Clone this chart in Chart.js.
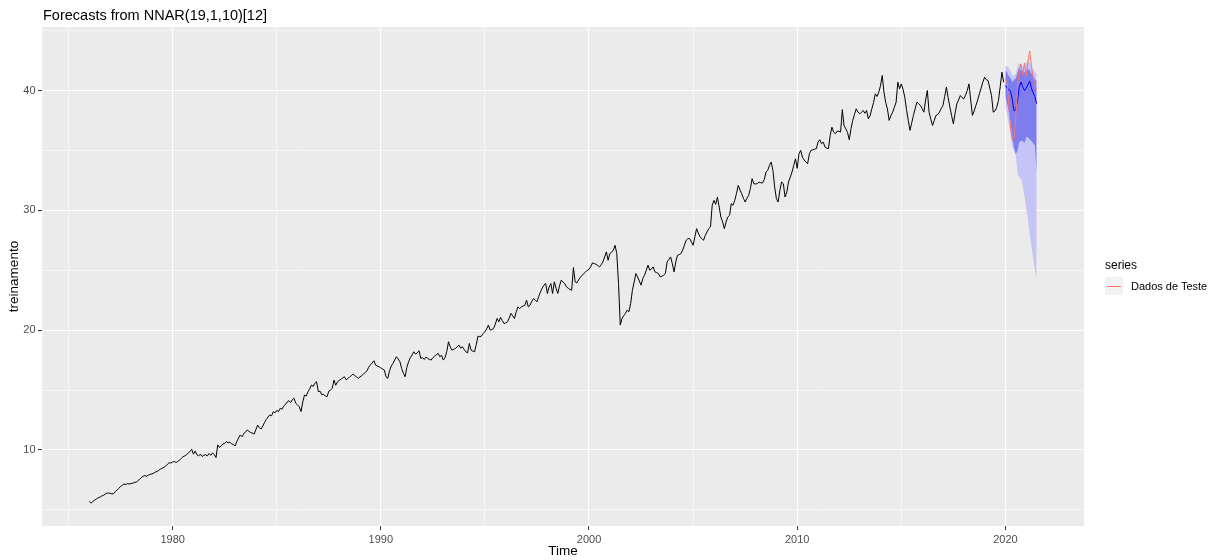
<!DOCTYPE html>
<html>
<head>
<meta charset="utf-8">
<title>Forecasts from NNAR(19,1,10)[12]</title>
<script src="https://cdn.jsdelivr.net/npm/chart.js@4.4.1/dist/chart.umd.min.js"></script>
<style>
  html, body { margin: 0; padding: 0; background: #fff; }
  #wrap { position: relative; width: 1222px; height: 560px; font-family: "Liberation Sans", Arial, sans-serif; color: #000; }
  #plot { position: absolute; left: 0; top: 0; }
  .txt { position: absolute; white-space: nowrap; line-height: 1; }
  #title { left: 43px; top: 8px; font-size: 14.5px; }
  #legTitle { left: 1105px; top: 259px; font-size: 12px; }
  #legKey { position: absolute; left: 1105px; top: 277px; width: 18px; height: 18px; background: #F2F2F2; }
  #legKey span { position: absolute; left: 2px; right: 2px; top: 8.5px; height: 1px; background: #F8766D; }
  #legLabel { left: 1131px; top: 281px; font-size: 11px; }
</style>
</head>
<body>
<div id="wrap">
  <canvas id="plot" width="1222" height="560"></canvas>
  <div class="txt" id="title">Forecasts from NNAR(19,1,10)[12]</div>
  <div class="txt" id="legTitle">series</div>
  <div id="legKey"><span></span></div>
  <div class="txt" id="legLabel">Dados de Teste</div>
</div>
<script>
// monthly series, one row per year
const trainStart = 1976;
const treinamento = [
  5.69, 5.56, 5.7, 5.8, 5.9, 6.0, 6.05, 6.15, 6.2, 6.3, 6.39, 6.4,            // 1976
  6.38, 6.33, 6.35, 6.53, 6.65, 6.8, 6.95, 7.05, 7.17, 7.1, 7.2, 7.15,        // 1977
  7.2, 7.22, 7.3, 7.28, 7.45, 7.55, 7.7, 7.8, 7.86, 7.8, 7.9, 7.95,           // 1978
  8.0, 8.05, 8.15, 8.2, 8.3, 8.4, 8.47, 8.55, 8.65, 8.8, 8.94, 8.9,           // 1979
  9.0, 9.03, 8.95, 9.05, 9.15, 9.3, 9.44, 9.5, 9.6, 9.75, 9.86, 10.05,        // 1980
  9.65, 9.9, 9.6, 9.5, 9.65, 9.45, 9.55, 9.6, 9.5, 9.7, 9.55, 9.75,           // 1981
  9.6, 9.36, 10.42, 10.2, 10.35, 10.5, 10.55, 10.69, 10.6, 10.65, 10.5, 10.45, // 1982
  10.33, 10.7, 11.0, 11.25, 11.1, 11.35, 11.5, 11.67, 11.55, 11.45, 11.4, 11.33, // 1983
  11.7, 12.08, 11.85, 11.75, 12.0, 12.3, 12.55, 12.75, 12.92, 12.85, 13.19, 13.1, // 1984
  13.3, 13.2, 13.47, 13.4, 13.65, 13.8, 14.0, 14.11, 13.95, 14.2, 14.31, 13.89, // 1985
  13.75, 13.6, 13.2, 14.0, 14.58, 14.5, 14.85, 15.1, 15.42, 15.3, 15.56, 15.69, // 1986
  14.86, 14.9, 14.6, 14.65, 14.5, 14.44, 14.9, 15.0, 15.14, 15.83, 15.4, 15.69, // 1987
  15.8, 15.9, 16.0, 16.11, 15.85, 15.95, 16.1, 16.2, 16.33, 16.2, 16.1, 15.97, // 1988
  16.1, 16.2, 16.33, 16.45, 16.6, 16.9, 17.1, 17.25, 17.44, 17.08, 17.0, 16.94, // 1989
  16.85, 16.75, 16.67, 16.1, 15.97, 16.6, 17.0, 17.22, 17.5, 17.78, 17.6, 17.36, // 1990
  16.8, 16.4, 16.11, 16.9, 17.36, 17.7, 17.92, 18.19, 18.0, 18.1, 18.28, 17.64, // 1991
  17.7, 17.55, 17.75, 17.64, 17.55, 17.5, 17.7, 17.83, 17.95, 18.06, 17.78, 17.9, // 1992
  17.5, 17.7, 18.2, 19.03, 18.6, 18.33, 18.4, 18.47, 18.6, 18.75, 18.5, 18.61, // 1993
  18.4, 18.19, 18.1, 18.89, 18.33, 18.25, 18.19, 18.8, 19.5, 19.45, 19.5, 19.72, // 1994
  19.86, 20.1, 20.42, 20.0, 20.05, 20.14, 20.5, 20.97, 20.69, 21.06, 20.8, 20.55, // 1995
  20.6, 20.69, 21.0, 21.39, 21.2, 20.97, 21.5, 21.94, 21.8, 21.94, 22.0, 22.08, // 1996
  22.5, 21.94, 22.08, 22.4, 22.64, 22.5, 22.36, 22.8, 23.19, 23.5, 23.75, 23.89, // 1997
  23.06, 23.6, 23.89, 23.06, 24.03, 23.5, 23.06, 23.7, 24.17, 24.0, 23.89, 23.61, // 1998
  23.5, 23.4, 23.33, 25.22, 24.03, 23.94, 24.2, 24.4, 24.58, 24.72, 24.85, 25.0, // 1999
  25.06, 25.3, 25.61, 25.55, 25.5, 25.4, 25.28, 25.45, 25.69, 26.1, 26.53, 25.83, // 2000
  26.39, 26.5, 26.67, 27.08, 26.39, 23.89, 20.42, 20.97, 21.2, 21.39, 21.67, 21.53, // 2001
  22.22, 23.33, 24.0, 24.72, 24.44, 24.1, 23.75, 24.31, 24.58, 25.0, 25.42, 25.0, // 2002
  25.1, 25.28, 24.86, 24.8, 24.72, 24.44, 24.5, 24.58, 24.72, 25.69, 25.9, 26.11, // 2003
  25.56, 24.86, 25.69, 26.25, 26.3, 26.39, 26.67, 27.1, 27.5, 27.64, 27.64, 27.36, // 2004
  27.08, 27.78, 28.47, 28.1, 27.78, 27.64, 27.5, 27.9, 28.19, 28.47, 28.61, 30.42, // 2005
  30.83, 30.5, 31.11, 30.28, 29.44, 29.03, 28.47, 29.03, 29.44, 29.58, 30.56, 30.42, // 2006
  30.83, 31.4, 32.08, 31.7, 31.39, 31.0, 30.69, 31.0, 31.25, 31.81, 32.64, 32.22, // 2007
  32.2, 32.22, 32.36, 32.3, 32.28, 32.56, 33.19, 33.33, 33.75, 34.03, 33.33, 31.94, // 2008
  30.97, 30.69, 31.67, 32.36, 32.22, 31.11, 31.53, 32.36, 32.78, 33.19, 33.75, 34.3, // 2009
  33.5, 34.72, 35.0, 34.44, 34.2, 34.03, 33.89, 34.72, 35.0, 35.05, 35.1, 35.14, // 2010
  35.69, 35.89, 35.56, 35.69, 35.28, 35.2, 35.14, 36.25, 36.94, 36.53, 36.39, 36.6, // 2011
  36.6, 36.53, 38.4, 37.08, 36.8, 36.5, 35.89, 36.8, 37.5, 38.0, 38.47, 38.2, // 2012
  38.05, 38.2, 38.33, 38.1, 38.33, 37.64, 37.9, 38.47, 39.0, 39.72, 39.5, 39.86, // 2013
  40.4, 41.25, 39.86, 39.0, 38.47, 37.5, 37.9, 38.19, 38.6, 39.03, 40.69, 40.14, // 2014
  40.55, 40.1, 39.44, 38.4, 37.5, 36.67, 37.3, 37.92, 38.5, 39.03, 38.9, 38.75, // 2015
  38.5, 38.19, 39.2, 40.0, 38.19, 37.6, 37.08, 37.5, 37.92, 38.0, 38.19, 38.5, // 2016
  38.75, 39.5, 40.28, 39.4, 38.61, 37.9, 37.22, 38.1, 38.89, 39.2, 39.58, 39.4, // 2017
  39.3, 39.6, 40.0, 40.55, 39.2, 37.92, 38.3, 38.75, 39.2, 39.72, 40.2, 40.7, // 2018
  41.11, 40.9, 40.83, 40.2, 39.58, 38.19, 38.3, 38.6, 39.17, 40.3, 41.53, 40.69  // 2019
];

// jan/2020 .. jul/2021
const testStart = 2020;
const dadosTeste = [41.0, 40.7, 38.6, 36.8, 35.8, 36.0, 37.8, 40.3, 41.8, 42.2, 41.3, 42.3, 41.2, 42.4, 43.3, 42.0, 41.0, 40.5, 40.0];
const previsao   = [40.4, 40.2, 40.1, 39.9, 39.2, 38.3, 38.4, 39.2, 40.3, 40.7, 40.3, 40.0, 40.2, 40.5, 40.8, 40.2, 39.8, 39.5, 38.9];
const hi95 = [42.1, 42.0, 41.9, 41.6, 41.2, 41.3, 41.4, 42.0, 42.3, 42.2, 42.0, 42.0, 42.3, 42.5, 42.3, 42.1, 41.8, 41.5, 41.4];
const hi80 = [41.7, 41.5, 41.2, 41.0, 40.7, 40.9, 41.0, 41.5, 41.9, 41.7, 41.6, 41.5, 41.7, 41.8, 41.7, 41.4, 41.2, 40.9, 40.8];
const lo80 = [39.5, 38.9, 38.2, 37.3, 36.1, 35.2, 34.7, 35.0, 35.7, 35.8, 35.8, 35.6, 36.1, 36.1, 35.9, 35.8, 35.6, 35.4, 33.0];
const lo95 = [38.6, 38.0, 37.2, 36.3, 35.3, 34.9, 34.6, 33.0, 32.8, 32.6, 32.0, 31.2, 30.2, 29.2, 28.0, 27.0, 26.0, 25.0, 24.3];

const xBreaks = [1975, 1980, 1985, 1990, 1995, 2000, 2005, 2010, 2015, 2020];
const yBreaks = [5, 10, 15, 20, 25, 30, 35, 40, 45];

function monthly(start, values) {
  return values.map((v, i) => ({ x: start + i / 12, y: v }));
}

const isMajor = v => v % 10 === 0;

// grey panel behind the grid
const panelBg = {
  id: 'panelBg',
  beforeDraw(chart) {
    const { ctx, chartArea: a } = chart;
    ctx.save();
    ctx.fillStyle = '#EBEBEB';
    ctx.fillRect(a.left, a.top, a.right - a.left, a.bottom - a.top);
    ctx.restore();
  }
};

function band(values, fill, color, order) {
  return {
    data: monthly(testStart, values),
    borderWidth: 0,
    borderColor: 'rgba(0,0,0,0)',
    backgroundColor: color,
    pointRadius: 0,
    fill: fill,
    order: order
  };
}

function line(values, start, color, order) {
  return {
    data: monthly(start, values),
    borderColor: color,
    borderWidth: 1,
    pointRadius: 0,
    fill: false,
    tension: 0,
    order: order
  };
}

function gridOpts() {
  return {
    color: '#FFFFFF',
    lineWidth: c => (c.tick && isMajor(c.tick.value)) ? 1.1 : 0.55,
    drawTicks: true,
    tickLength: 4,
    tickWidth: 1,
    tickColor: c => (c.tick && isMajor(c.tick.value)) ? '#333333' : 'rgba(0,0,0,0)'
  };
}

const tickFont = { family: '"Liberation Sans", Arial, sans-serif', size: 11 };
const titleFont = { family: '"Liberation Sans", Arial, sans-serif', size: 13.5 };

new Chart(document.getElementById('plot').getContext('2d'), {
  type: 'line',
  data: {
    datasets: [
      band(lo95, false, 'rgba(0,0,0,0)', 6),
      band(hi95, 0, '#C4C4F7', 6),
      band(lo80, false, 'rgba(0,0,0,0)', 5),
      band(hi80, 2, '#7D7DEF', 5),
      line(treinamento, trainStart, '#000000', 3),
      line(previsao, testStart, '#0000FF', 2),
      line(dadosTeste, testStart, '#F8766D', 1)
    ]
  },
  options: {
    responsive: false,
    devicePixelRatio: 1,
    animation: false,
    events: [],
    layout: { padding: { left: 0, top: 27, right: 138, bottom: 0 } },
    plugins: { legend: { display: false }, tooltip: { enabled: false }, title: { display: false } },
    scales: {
      x: {
        type: 'linear',
        min: 1973.725,
        max: 2023.775,
        border: { display: false },
        grid: gridOpts(),
        afterBuildTicks: s => { s.ticks = xBreaks.map(v => ({ value: v })); },
        afterFit: s => { s.height = 34; },
        ticks: {
          autoSkip: false, maxRotation: 0, padding: 3.5,
          color: '#4D4D4D', font: tickFont,
          callback: v => isMajor(v) ? String(v) : ''
        },
        title: { display: true, text: 'Time', color: '#000', font: titleFont, padding: { top: 0, bottom: 1 } }
      },
      y: {
        type: 'linear',
        min: 3.65,
        max: 45.3,
        border: { display: false },
        grid: gridOpts(),
        afterBuildTicks: s => { s.ticks = yBreaks.map(v => ({ value: v })); },
        afterFit: s => { s.width = 42; },
        ticks: {
          autoSkip: false, padding: 2.5,
          color: '#4D4D4D', font: tickFont,
          callback: v => isMajor(v) ? String(v) : ''
        },
        title: { display: true, text: 'treinamento', color: '#000', font: titleFont, padding: { top: 6, bottom: 0 } }
      }
    }
  },
  plugins: [panelBg]
});
</script>
</body>
</html>
